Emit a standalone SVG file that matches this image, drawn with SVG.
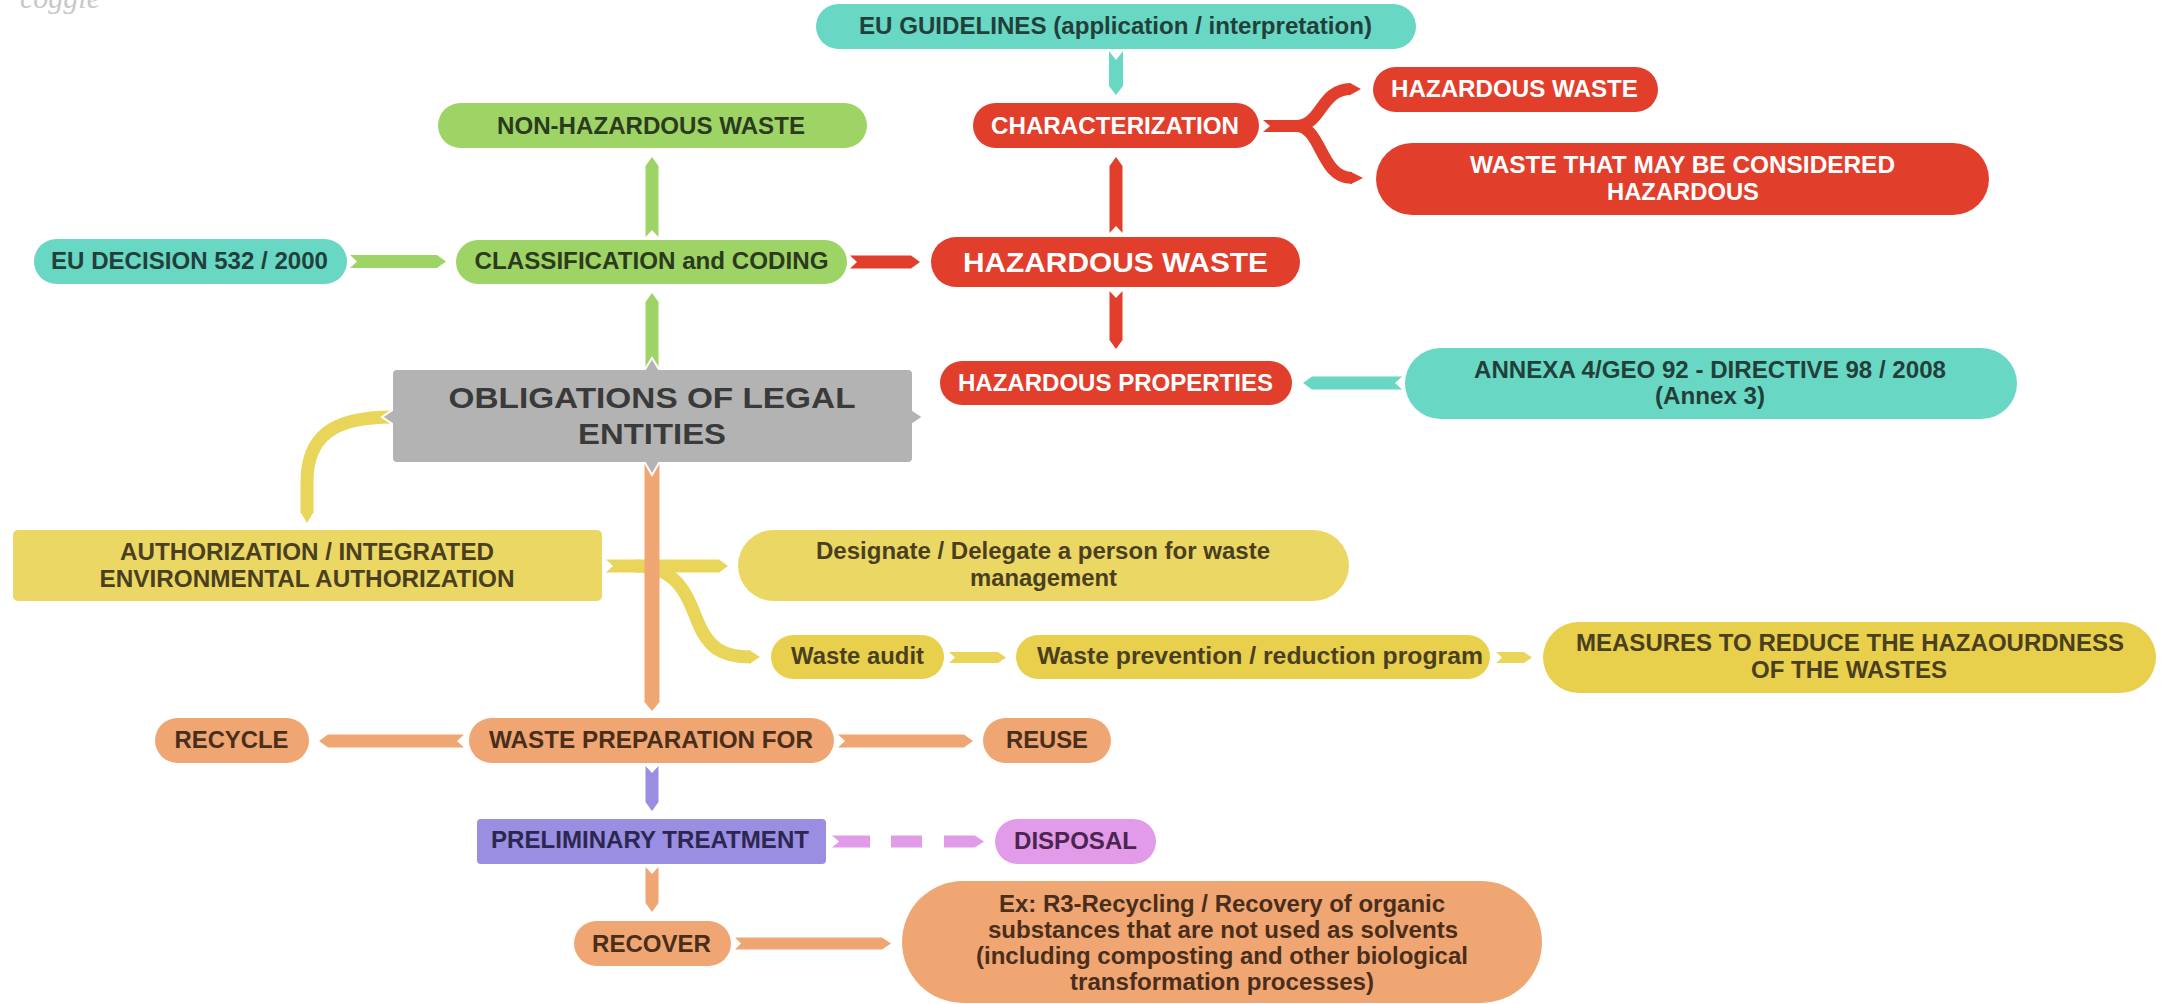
<svg xmlns="http://www.w3.org/2000/svg" width="2167" height="1004" viewBox="0 0 2167 1004">
<style>
.t{font-family:"Liberation Sans",Arial,sans-serif;font-weight:bold;font-size:23px;text-anchor:middle}
.big{font-size:28px}
.huge{font-size:30px}
.teal{fill:#68d7c4}.tealT{fill:#233f3a}
.green{fill:#9dd465}.greenT{fill:#2c3a1e}
.red{fill:#e23e2c}.redT{fill:#ffffff}
.gray{fill:#b3b3b3}.grayT{fill:#3a3a3a}
.yel{fill:#ebd864}.yel2{fill:#e8cf4c}.yelT{fill:#4a4020}
.ora{fill:#f0a672}.oraT{fill:#4a2e1c}
.pur{fill:#998ee2}.purT{fill:#2c2750}
.pink{fill:#e29be8}.pinkT{fill:#4b2450}
.cTeal{fill:#68d7c4}.cGreen{fill:#9dd465}.cRed{fill:#e23e2c}.cYel{fill:#e9d55a}.cOra{fill:#f0a672}.cPur{fill:#998ee2}.cPink{fill:#e29be8}
.sRed{fill:none;stroke:#e23e2c;stroke-width:12}
.sYel{fill:none;stroke:#e9d55a;stroke-width:13}
.tri{fill:#b3b3b3;stroke:#ffffff;stroke-width:2}
</style>
<rect width="2167" height="1004" fill="#ffffff"/>
<text x="20" y="8" font-family="Liberation Serif,serif" font-style="italic" font-size="30" fill="#c8c8c8">coggle</text>

<g id="connectors">
  <path class="sYel" d="M392 417 C332 417 307 437 307 482 L307 513"/>
  <polygon class="cYel" points="300.5,512 313.5,512 307,523"/>
  <polygon class="cYel" points="606,559.5 719,559.5 728,566 719,572.5 606,572.5 613,566"/>
  <path class="sYel" d="M636 566 C676 567 686 592 697 620 C708 648 722 657 751 657"/>
  <polygon class="cYel" points="750,650.5 760,657 750,663.5"/>
  <polygon class="cYel" points="949,652 998,652 1006,657.5 998,663 949,663 955,657.5"/>
  <polygon class="cYel" points="1496,652 1524,652 1532,657.5 1524,663 1496,663 1502,657.5"/>
  <polygon class="cTeal" points="1109,51 1116,60 1123,51 1123,86 1116,95 1109,86"/>
  <polygon class="cTeal" points="1402,376.5 1312,376.5 1303,383 1312,389.5 1402,389.5 1395,383"/>
  <polygon class="cGreen" points="645.5,237 652,230 658.5,237 658.5,166 652,157 645.5,166"/>
  <polygon class="cGreen" points="350,255 437,255 446,261.5 437,268 350,268 357,261.5"/>
  <polygon class="cGreen" points="645.5,370 652,363 658.5,370 658.5,302 652,293 645.5,302"/>
  <polygon class="cRed" points="850,255.5 911,255.5 920,262 911,268.5 850,268.5 857,262"/>
  <polygon class="cRed" points="1109.5,233 1116,226 1122.5,233 1122.5,166 1116,157 1109.5,166"/>
  <polygon class="cRed" points="1109.5,291 1116,298 1122.5,291 1122.5,340 1116,349 1109.5,340"/>
  <polygon class="cRed" points="1263,120 1300,120 1300,132 1263,132 1270,126"/>
  <path class="sRed" d="M1296 126 C1322 126 1320 89 1351 89"/>
  <path class="sRed" d="M1296 126 C1322 126 1320 178 1352 178"/>
  <polygon class="cRed" points="1350,83 1361,89 1350,95"/>
  <polygon class="cRed" points="1351,172 1363,178 1351,184"/>
  <polygon class="cOra" points="644.5,462 652,469 659.5,462 659.5,702 652,711 644.5,702"/>
  <polygon class="cOra" points="464,734.5 328,734.5 319,741 328,747.5 464,747.5 457,741"/>
  <polygon class="cOra" points="838,734.5 964,734.5 973,741 964,747.5 838,747.5 845,741"/>
  <polygon class="cOra" points="645.5,867 652,874 658.5,867 658.5,903 652,912 645.5,903"/>
  <polygon class="cOra" points="735,937.5 882,937.5 891,943.5 882,949.5 735,949.5 741,943.5"/>
  <polygon class="cPur" points="645.5,766 652,773 658.5,766 658.5,802 652,811 645.5,802"/>
  <polygon class="cPink" points="832,835.5 870,835.5 870,847.5 832,847.5 839,841.5"/>
  <rect class="cPink" x="891" y="835.5" width="31" height="12"/>
  <polygon class="cPink" points="944,835.5 975,835.5 984,841.5 975,847.5 944,847.5"/>
</g>

<g id="n_guidelines">
  <rect class="teal" x="816" y="4" width="600" height="45" rx="22.5"/>
  <text class="t tealT" x="1115.5" y="34" textLength="513" lengthAdjust="spacingAndGlyphs">EU GUIDELINES (application / interpretation)</text>
</g>
<g id="n_nonhaz">
  <rect class="green" x="438" y="103" width="429" height="45" rx="22.5"/>
  <text class="t greenT" x="651" y="134" textLength="308" lengthAdjust="spacingAndGlyphs">NON-HAZARDOUS WASTE</text>
</g>
<g id="n_char">
  <rect class="red" x="973" y="103" width="286" height="45" rx="22.5"/>
  <text class="t redT" x="1115" y="134" textLength="248" lengthAdjust="spacingAndGlyphs">CHARACTERIZATION</text>
</g>
<g id="n_haz_small">
  <rect class="red" x="1373" y="67" width="285" height="45" rx="22.5"/>
  <text class="t redT" x="1514.5" y="97" textLength="247" lengthAdjust="spacingAndGlyphs">HAZARDOUS WASTE</text>
</g>
<g id="n_maybe">
  <rect class="red" x="1376" y="143" width="613" height="72" rx="36"/>
  <text class="t redT" x="1682.5" y="173" textLength="425" lengthAdjust="spacingAndGlyphs">WASTE THAT MAY BE CONSIDERED</text>
  <text class="t redT" x="1683" y="200" textLength="152" lengthAdjust="spacingAndGlyphs">HAZARDOUS</text>
</g>
<g id="n_eudec">
  <rect class="teal" x="34" y="239" width="313" height="45" rx="22.5"/>
  <text class="t tealT" x="189.5" y="269" textLength="277" lengthAdjust="spacingAndGlyphs">EU DECISION 532 / 2000</text>
</g>
<g id="n_class">
  <rect class="green" x="456" y="240" width="391" height="44" rx="22"/>
  <text class="t greenT" x="651.5" y="269" textLength="354" lengthAdjust="spacingAndGlyphs">CLASSIFICATION and CODING</text>
</g>
<g id="n_hazard">
  <rect class="red" x="931" y="237" width="369" height="50" rx="25"/>
  <text class="t big redT" x="1115.5" y="272" textLength="305" lengthAdjust="spacingAndGlyphs">HAZARDOUS WASTE</text>
</g>
<g id="n_obligations">
  <polygon class="tri" points="644,371 652,358 660,371"/>
  <polygon class="tri" points="644,461 652,475 660,461"/>
  <polygon class="tri" points="394,409 382,417 394,425"/>
  <polygon class="tri" points="911,409 923,417 911,425"/>
  <rect class="gray" x="393" y="370" width="519" height="92" rx="4"/>
  <text class="t huge grayT" x="652" y="408" textLength="407" lengthAdjust="spacingAndGlyphs">OBLIGATIONS OF LEGAL</text>
  <text class="t huge grayT" x="652" y="444" textLength="148" lengthAdjust="spacingAndGlyphs">ENTITIES</text>
</g>
<g id="n_hprop">
  <rect class="red" x="940" y="361" width="352" height="44" rx="22"/>
  <text class="t redT" x="1115.5" y="391" textLength="315" lengthAdjust="spacingAndGlyphs">HAZARDOUS PROPERTIES</text>
</g>
<g id="n_annexa">
  <rect class="teal" x="1405" y="348" width="612" height="71" rx="35.5"/>
  <text class="t tealT" x="1710" y="378" textLength="472" lengthAdjust="spacingAndGlyphs">ANNEXA 4/GEO 92 - DIRECTIVE 98 / 2008</text>
  <text class="t tealT" x="1710" y="404" textLength="110" lengthAdjust="spacingAndGlyphs">(Annex 3)</text>
</g>
<g id="n_auth">
  <rect class="yel" x="13" y="530" width="589" height="71" rx="5"/>
  <text class="t yelT" x="307" y="560" textLength="374" lengthAdjust="spacingAndGlyphs">AUTHORIZATION / INTEGRATED</text>
  <text class="t yelT" x="307" y="587" textLength="415" lengthAdjust="spacingAndGlyphs">ENVIRONMENTAL AUTHORIZATION</text>
</g>
<g id="n_designate">
  <rect class="yel" x="738" y="530" width="611" height="71" rx="35.5"/>
  <text class="t yelT" x="1043" y="559" textLength="454" lengthAdjust="spacingAndGlyphs">Designate / Delegate a person for waste</text>
  <text class="t yelT" x="1043.5" y="586" textLength="147" lengthAdjust="spacingAndGlyphs">management</text>
</g>
<g id="n_audit">
  <rect class="yel2" x="771" y="635" width="173" height="44" rx="22"/>
  <text class="t yelT" x="857.5" y="664" textLength="133" lengthAdjust="spacingAndGlyphs">Waste audit</text>
</g>
<g id="n_prevention">
  <rect class="yel2" x="1016" y="635" width="474" height="44" rx="22"/>
  <text class="t yelT" x="1260" y="664" textLength="446" lengthAdjust="spacingAndGlyphs">Waste prevention / reduction program</text>
</g>
<g id="n_measures">
  <rect class="yel2" x="1543" y="622" width="613" height="71" rx="35.5"/>
  <text class="t yelT" x="1850" y="651" textLength="548" lengthAdjust="spacingAndGlyphs">MEASURES TO REDUCE THE HAZAOURDNESS</text>
  <text class="t yelT" x="1849" y="678" textLength="196" lengthAdjust="spacingAndGlyphs">OF THE WASTES</text>
</g>
<g id="n_recycle">
  <rect class="ora" x="155" y="718" width="154" height="45" rx="22.5"/>
  <text class="t oraT" x="231.5" y="748" textLength="114" lengthAdjust="spacingAndGlyphs">RECYCLE</text>
</g>
<g id="n_prep">
  <rect class="ora" x="469" y="718" width="365" height="45" rx="22.5"/>
  <text class="t oraT" x="651" y="748" textLength="324" lengthAdjust="spacingAndGlyphs">WASTE PREPARATION FOR</text>
</g>
<g id="n_reuse">
  <rect class="ora" x="983" y="718" width="128" height="45" rx="22.5"/>
  <text class="t oraT" x="1047" y="748" textLength="82" lengthAdjust="spacingAndGlyphs">REUSE</text>
</g>
<g id="n_prelim">
  <rect class="pur" x="477" y="819" width="349" height="45" rx="4"/>
  <text class="t purT" x="650" y="848" textLength="318" lengthAdjust="spacingAndGlyphs">PRELIMINARY TREATMENT</text>
</g>
<g id="n_disposal">
  <rect class="pink" x="995" y="819" width="161" height="45" rx="22.5"/>
  <text class="t pinkT" x="1075.5" y="849" textLength="123" lengthAdjust="spacingAndGlyphs">DISPOSAL</text>
</g>
<g id="n_recover">
  <rect class="ora" x="574" y="921" width="157" height="45" rx="22.5"/>
  <text class="t oraT" x="651.5" y="952" textLength="119" lengthAdjust="spacingAndGlyphs">RECOVER</text>
</g>
<g id="n_example">
  <rect class="ora" x="902" y="881" width="640" height="122" rx="61"/>
  <text class="t oraT" x="1222" y="912" textLength="446" lengthAdjust="spacingAndGlyphs">Ex: R3-Recycling / Recovery of organic</text>
  <text class="t oraT" x="1223" y="938" textLength="470" lengthAdjust="spacingAndGlyphs">substances that are not used as solvents</text>
  <text class="t oraT" x="1222" y="964" textLength="492" lengthAdjust="spacingAndGlyphs">(including composting and other biological</text>
  <text class="t oraT" x="1222" y="990" textLength="304" lengthAdjust="spacingAndGlyphs">transformation processes)</text>
</g>
</svg>
